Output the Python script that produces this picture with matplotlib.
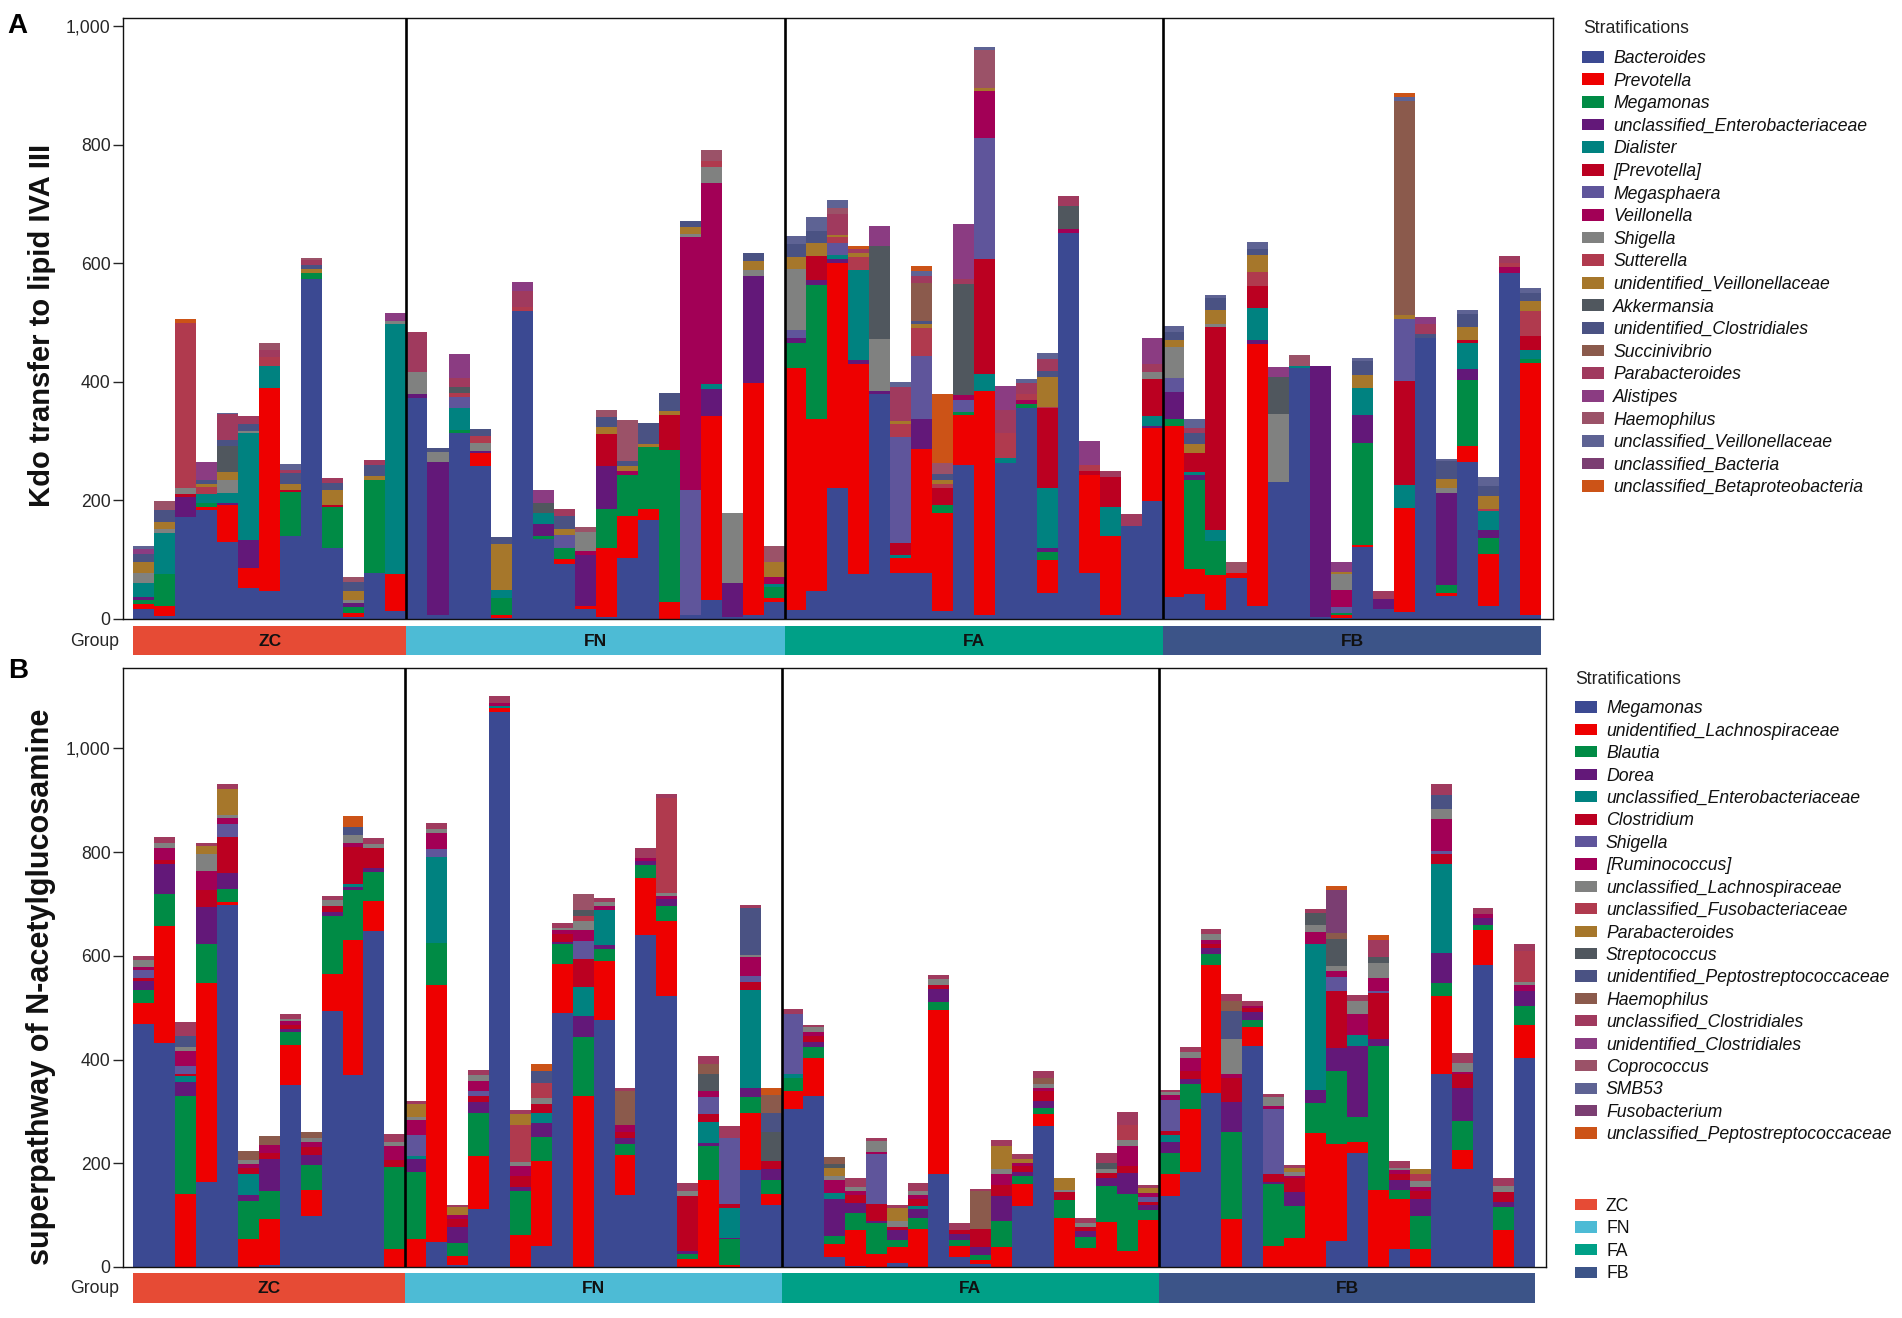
import numpy as np
import matplotlib
matplotlib.use("Agg")
import matplotlib.pyplot as plt
from matplotlib.patches import Rectangle
from matplotlib.ticker import FuncFormatter

plt.rcParams['font.family'] = ['Liberation Sans', 'DejaVu Sans']

GROUPS = ["ZC", "FN", "FA", "FB"]
GROUP_COLORS = ["#E64B35", "#4DBBD5", "#00A087", "#3C5488"]
PALETTE = ["#3B4992", "#EE0000", "#008B45", "#631879", "#008280", "#BB0021",
           "#5F559B", "#A20056", "#808180", "#B03A4E", "#A6772B", "#50575E",
           "#4A5283", "#8B5A4C", "#A03A5E", "#8B3C82", "#9B5268", "#5E6394",
           "#7B3E72", "#CC5317"]

TAXA_A = ["Bacteroides", "Prevotella", "Megamonas", "unclassified_Enterobacteriaceae",
          "Dialister", "[Prevotella]", "Megasphaera", "Veillonella", "Shigella",
          "Sutterella", "unidentified_Veillonellaceae", "Akkermansia",
          "unidentified_Clostridiales", "Succinivibrio", "Parabacteroides",
          "Alistipes", "Haemophilus", "unclassified_Veillonellaceae",
          "unclassified_Bacteria", "unclassified_Betaproteobacteria"]
TAXA_B = ["Megamonas", "unidentified_Lachnospiraceae", "Blautia", "Dorea",
          "unclassified_Enterobacteriaceae", "Clostridium", "Shigella",
          "[Ruminococcus]", "unclassified_Lachnospiraceae",
          "unclassified_Fusobacteriaceae", "Parabacteroides", "Streptococcus",
          "unidentified_Peptostreptococcaceae", "Haemophilus",
          "unclassified_Clostridiales", "unidentified_Clostridiales",
          "Coprococcus", "SMB53", "Fusobacterium",
          "unclassified_Peptostreptococcaceae"]

# ---- Panel A: Kdo transfer to lipid IVA III (sample -> {taxon index: value})
A_ZC = [
    {0: 16, 1: 8, 2: 8, 3: 4, 4: 25, 8: 16, 10: 18, 12: 14, 15: 9, 17: 5},
    {0: 5, 1: 16, 2: 55, 4: 69, 8: 7, 10: 12, 12: 20, 16: 15},
    {0: 172, 3: 34, 5: 4, 8: 11, 9: 279, 19: 6},
    {0: 183, 1: 5, 2: 7, 4: 16, 9: 11, 10: 5, 12: 7, 15: 30},
    {0: 129, 1: 63, 3: 3, 4: 18, 8: 21, 10: 14, 11: 43, 12: 11, 14: 43, 17: 3},
    {0: 51, 1: 34, 3: 48, 4: 180, 8: 4, 12: 11, 14: 14},
    {0: 46, 1: 343, 4: 37, 9: 16, 14: 11, 16: 12},
    {0: 139, 2: 75, 5: 4, 10: 9, 12: 19, 14: 5, 17: 11},
    {0: 574, 2: 9, 10: 7, 12: 7, 14: 8, 16: 4},
    {0: 119, 2: 70, 5: 3, 10: 25, 12: 12, 14: 8},
    {0: 3, 1: 6, 2: 10, 3: 8, 8: 5, 10: 14, 12: 16, 16: 9},
    {0: 77, 2: 158, 10: 6, 12: 19, 14: 8},
    {0: 13, 1: 62, 4: 423, 8: 4, 15: 14},
]
A_FN = [
    {0: 373, 3: 7, 8: 36, 14: 68},
    {0: 7, 3: 258, 8: 16, 12: 8},
    {0: 313, 2: 6, 4: 37, 6: 18, 9: 7, 11: 11, 14: 14, 15: 41},
    {0: 258, 1: 21, 3: 4, 8: 14, 9: 11, 12: 13},
    {0: 2, 1: 5, 2: 28, 4: 13, 10: 78, 12: 12},
    {0: 519, 9: 7, 14: 28, 15: 14},
    {0: 135, 2: 5, 3: 20, 4: 19, 11: 16, 15: 23},
    {0: 92, 1: 9, 2: 19, 6: 21, 10: 11, 12: 21, 14: 13},
    {0: 16, 1: 6, 3: 85, 7: 7, 8: 33, 16: 8},
    {0: 3, 1: 117, 2: 66, 3: 71, 5: 55, 10: 11, 12: 18, 16: 11},
    {0: 102, 1: 72, 2: 68, 7: 7, 10: 9, 12: 9, 16: 68},
    {0: 167, 1: 18, 2: 105, 10: 5, 12: 36},
    {1: 28, 2: 256, 5: 60, 10: 7, 12: 30},
    {0: 7, 6: 211, 7: 427, 8: 5, 10: 11, 12: 11},
    {0: 32, 1: 311, 3: 45, 4: 9, 7: 338, 8: 28, 9: 9, 16: 20},
    {0: 3, 3: 58, 8: 117},
    {0: 6, 1: 392, 3: 180, 8: 10, 10: 16, 12: 13},
    {0: 28, 1: 7, 2: 18, 4: 5, 7: 13, 10: 25, 16: 26},
]
A_FA = [
    {0: 14, 1: 410, 2: 41, 3: 9, 6: 13, 8: 104, 10: 20, 12: 21, 17: 14},
    {0: 46, 1: 291, 2: 226, 3: 9, 5: 41, 10: 21, 12: 21, 17: 23},
    {0: 220, 1: 380, 3: 7, 4: 7, 6: 21, 9: 9, 10: 4, 14: 35, 16: 10, 17: 14},
    {0: 75, 1: 355, 3: 7, 4: 151, 9: 23, 10: 7, 14: 7, 19: 5},
    {0: 380, 3: 5, 8: 87, 11: 158, 15: 33},
    {0: 78, 1: 25, 4: 4, 5: 21, 6: 178, 9: 23, 10: 4, 14: 59, 17: 7},
    {0: 78, 1: 208, 3: 52, 6: 105, 9: 48, 10: 7, 12: 5, 13: 64, 14: 11, 17: 9, 19: 8},
    {0: 13, 1: 166, 2: 13, 5: 28, 9: 7, 10: 7, 12: 11, 16: 18, 19: 117},
    {0: 259, 1: 85, 2: 5, 6: 21, 7: 7, 11: 188, 14: 9, 15: 92},
    {0: 7, 1: 378, 4: 28, 5: 195, 6: 203, 7: 80, 10: 5, 16: 64, 17: 6},
    {0: 263, 4: 9, 9: 41, 14: 39, 15: 41},
    {0: 355, 2: 7, 7: 7, 9: 11, 14: 18, 17: 6},
    {0: 44, 1: 55, 2: 14, 3: 7, 4: 100, 5: 135, 9: 3, 10: 50, 12: 11, 14: 20, 17: 10},
    {0: 652, 7: 6, 11: 39, 14: 16},
    {0: 77, 1: 166, 5: 6, 9: 11, 15: 40},
    {0: 6, 1: 134, 4: 48, 5: 51, 14: 11},
    {0: 156, 14: 21},
    {0: 199, 1: 123, 3: 4, 4: 17, 5: 61, 8: 12, 14: 14, 15: 44},
]
A_FB = [
    {0: 37, 1: 289, 2: 12, 3: 45, 6: 23, 8: 53, 10: 11, 12: 14, 17: 11},
    {0: 41, 1: 43, 2: 151, 3: 7, 4: 6, 5: 31, 10: 16, 12: 18, 14: 9, 17: 16},
    {0: 14, 1: 60, 2: 57, 4: 19, 5: 343, 8: 5, 10: 23, 12: 21, 17: 5},
    {0: 68, 1: 9, 16: 19},
    {0: 21, 1: 442, 3: 7, 4: 55, 5: 36, 9: 25, 10: 28, 12: 11, 17: 11},
    {0: 231, 8: 114, 11: 63, 15: 17},
    {0: 424, 4: 3, 16: 18},
    {0: 3, 3: 423},
    {0: 2, 1: 4, 2: 3, 6: 11, 7: 28, 8: 27, 10: 4, 15: 16},
    {0: 121, 1: 4, 2: 171, 3: 48, 4: 45, 10: 23, 12: 23, 17: 5},
    {0: 16, 3: 18, 14: 12},
    {0: 11, 1: 176, 4: 39, 5: 176, 6: 104, 10: 7, 13: 361, 17: 7, 19: 6},
    {0: 474, 12: 6, 14: 18, 15: 11},
    {0: 39, 1: 4, 2: 14, 3: 156, 8: 7, 10: 16, 12: 30, 17: 4},
    {0: 265, 1: 26, 2: 112, 3: 18, 4: 44, 5: 5, 10: 23, 12: 21, 17: 7},
    {0: 21, 1: 89, 2: 26, 3: 14, 4: 31, 9: 4, 10: 23, 12: 16, 17: 16},
    {0: 584, 7: 9, 9: 7, 14: 12},
    {0: 6, 1: 426, 2: 7, 4: 14, 5: 25, 9: 41, 10: 18, 12: 13, 17: 9},
]

# ---- Panel B: superpathway of N-acetylglucosamine
B_ZC = [
    {0: 468, 1: 41, 2: 25, 3: 18, 5: 6, 6: 15, 7: 5, 8: 14, 14: 8},
    {0: 432, 1: 225, 2: 62, 3: 59, 5: 7, 7: 22, 8: 11, 14: 11},
    {1: 141, 2: 188, 3: 27, 4: 12, 5: 4, 6: 16, 7: 29, 8: 8, 12: 21, 14: 27},
    {0: 163, 1: 385, 2: 74, 3: 73, 5: 31, 7: 37, 8: 33, 10: 15, 14: 7},
    {0: 698, 1: 5, 2: 26, 3: 30, 5: 70, 6: 25, 7: 12, 8: 6, 10: 49, 14: 10},
    {1: 53, 2: 75, 3: 10, 4: 41, 5: 12, 7: 8, 8: 8, 13: 16},
    {0: 4, 1: 88, 2: 54, 3: 62, 5: 12, 7: 16, 13: 16},
    {0: 350, 1: 78, 2: 25, 3: 6, 5: 8, 7: 8, 8: 4, 14: 8},
    {0: 99, 1: 49, 2: 49, 3: 19, 5: 16, 7: 8, 8: 8, 13: 12},
    {0: 493, 1: 72, 2: 111, 3: 8, 5: 12, 8: 12, 14: 8},
    {0: 371, 1: 259, 2: 96, 3: 7, 4: 6, 5: 70, 7: 8, 8: 16, 12: 16, 19: 21},
    {0: 647, 1: 58, 2: 57, 3: 7, 5: 39, 8: 8, 14: 12},
    {1: 34, 2: 158, 5: 14, 7: 27, 8: 8, 14: 15},
]
B_FN = [
    {1: 53, 2: 130, 3: 25, 4: 6, 6: 41, 7: 29, 8: 6, 10: 25, 14: 5},
    {0: 48, 1: 495, 2: 82, 4: 166, 6: 15, 7: 30, 8: 8, 14: 12},
    {0: 4, 1: 17, 2: 26, 3: 29, 5: 16, 7: 8, 10: 16, 14: 4},
    {0: 111, 1: 103, 2: 82, 3: 23, 5: 10, 6: 11, 7: 19, 8: 12, 14: 8},
    {0: 1071, 1: 6, 4: 5, 7: 6, 14: 14},
    {1: 62, 2: 85, 3: 7, 5: 21, 7: 20, 8: 7, 9: 72, 10: 21, 14: 8},
    {0: 41, 1: 163, 2: 47, 3: 27, 4: 18, 5: 19, 8: 11, 9: 28, 12: 23, 19: 14},
    {0: 489, 1: 95, 2: 39, 3: 4, 5: 16, 7: 6, 8: 5, 14: 10},
    {1: 329, 2: 115, 3: 39, 4: 56, 5: 55, 6: 35, 7: 21, 8: 18, 9: 8, 11: 12, 16: 32},
    {0: 477, 1: 113, 2: 23, 3: 8, 4: 67, 7: 8, 8: 7, 14: 8},
    {0: 138, 1: 78, 2: 21, 3: 12, 5: 12, 7: 12, 13: 66, 14: 6},
    {0: 641, 1: 109, 2: 25, 3: 8, 7: 6, 14: 19},
    {0: 523, 1: 145, 2: 29, 3: 12, 7: 6, 8: 7, 9: 182, 14: 9},
    {1: 15, 2: 10, 3: 5, 5: 107, 8: 10, 14: 14},
    {1: 167, 2: 67, 3: 4, 4: 41, 5: 15, 6: 33, 7: 12, 11: 33, 13: 20, 14: 14},
    {1: 4, 2: 49, 3: 3, 4: 58, 5: 8, 6: 127, 14: 22},
    {0: 186, 1: 110, 2: 31, 3: 18, 4: 189, 5: 15, 6: 12, 7: 37, 8: 4, 12: 90, 14: 6},
    {0: 119, 1: 21, 2: 27, 3: 21, 5: 16, 11: 56, 12: 36, 13: 35, 19: 14},
]
B_FA = [
    {0: 305, 1: 35, 2: 25, 4: 8, 6: 115, 14: 10},
    {0: 329, 1: 74, 2: 21, 3: 10, 5: 12, 7: 8, 8: 8, 14: 4},
    {0: 19, 1: 25, 2: 16, 3: 70, 4: 12, 7: 25, 8: 8, 10: 16, 11: 8, 13: 13},
    {0: 2, 1: 70, 2: 31, 3: 21, 5: 14, 7: 8, 8: 8, 14: 18},
    {1: 25, 2: 60, 3: 4, 5: 33, 6: 96, 7: 4, 8: 21, 14: 6},
    {0: 7, 1: 31, 2: 14, 3: 20, 5: 4, 8: 12, 10: 25, 14: 7},
    {1: 74, 2: 21, 3: 16, 4: 7, 5: 12, 7: 8, 8: 8, 14: 16},
    {0: 179, 1: 316, 2: 16, 3: 25, 5: 8, 8: 12, 14: 7},
    {0: 19, 1: 21, 2: 12, 3: 12, 5: 8, 14: 12},
    {0: 5, 1: 8, 2: 10, 3: 16, 5: 35, 13: 73, 14: 3},
    {1: 39, 2: 49, 3: 49, 5: 21, 7: 22, 8: 8, 10: 45, 14: 11},
    {0: 117, 1: 43, 2: 15, 3: 8, 5: 11, 7: 6, 10: 8, 14: 10},
    {0: 271, 1: 23, 2: 12, 3: 14, 5: 19, 7: 6, 8: 7, 13: 12, 14: 14},
    {1: 94, 2: 35, 5: 16, 8: 4, 10: 23},
    {1: 37, 2: 21, 3: 11, 5: 8, 8: 8, 14: 10},
    {1: 86, 2: 70, 3: 15, 5: 10, 8: 8, 11: 11, 14: 20},
    {1: 30, 2: 110, 3: 42, 5: 12, 7: 39, 8: 11, 9: 30, 14: 25},
    {1: 91, 2: 18, 3: 10, 5: 7, 6: 8, 7: 8, 10: 11, 14: 4},
]
B_FB = [
    {0: 136, 1: 44, 2: 39, 3: 22, 4: 14, 5: 7, 6: 60, 7: 10, 8: 6, 14: 4},
    {0: 183, 1: 122, 2: 47, 3: 10, 5: 15, 7: 25, 8: 12, 14: 10},
    {0: 335, 1: 248, 2: 21, 3: 11, 5: 8, 7: 8, 8: 12, 14: 8},
    {1: 93, 2: 167, 3: 58, 5: 47, 7: 8, 8: 67, 12: 53, 13: 19, 14: 15},
    {0: 427, 1: 35, 2: 14, 3: 16, 5: 7, 7: 4, 14: 10},
    {1: 41, 2: 119, 3: 4, 5: 15, 6: 126, 7: 6, 8: 16, 14: 6},
    {1: 56, 2: 62, 3: 26, 5: 27, 7: 4, 8: 8, 10: 7, 14: 6},
    {1: 259, 2: 58, 3: 25, 4: 281, 7: 23, 8: 14, 11: 22, 14: 8},
    {0: 50, 1: 187, 2: 140, 3: 45, 5: 111, 6: 27, 7: 10, 8: 11, 11: 51, 13: 12, 18: 82, 19: 8},
    {0: 220, 1: 21, 2: 48, 3: 137, 4: 22, 7: 39, 8: 25, 14: 12},
    {1: 148, 2: 279, 3: 13, 5: 88, 6: 4, 7: 25, 8: 29, 11: 12, 14: 33, 19: 10},
    {0: 35, 1: 96, 2: 17, 3: 20, 5: 11, 7: 8, 8: 4, 14: 14},
    {1: 35, 2: 63, 3: 33, 5: 16, 7: 8, 8: 11, 9: 14, 10: 9},
    {0: 372, 1: 150, 2: 25, 3: 59, 4: 171, 5: 20, 6: 6, 7: 60, 8: 21, 12: 26, 14: 22},
    {0: 189, 1: 37, 2: 56, 3: 63, 5: 27, 7: 4, 8: 18, 14: 19},
    {0: 582, 1: 67, 2: 11, 3: 12, 7: 8, 14: 12},
    {1: 71, 2: 45, 3: 10, 5: 19, 8: 11, 14: 15},
    {0: 403, 1: 63, 2: 37, 3: 29, 7: 12, 8: 6, 9: 60, 14: 12},
]

YLABEL_A = "Kdo transfer to lipid IVA III"
YLABEL_B = "superpathway of N-acetylglucosamine"

W, H = 1902, 1318


def fx(px):
    return px / W


def fy(py):
    return 1 - py / H


def dense(groups, ntaxa):
    rows = [r for g in groups for r in g]
    M = np.zeros((len(rows), ntaxa))
    for i, r in enumerate(rows):
        for k, v in r.items():
            M[i, k] = v
    return M


FS = 12.7
TICK_COLOR = "#262626"


def draw_panel(rect, strip_rect, groups, taxa, ylim, ylabel, ylabel_size,
               xlim, label_pos):
    ax = fig.add_axes(rect)
    axg = fig.add_axes(strip_rect)
    M = dense(groups, len(taxa))
    n = M.shape[0]
    x = np.arange(n)
    bottom = np.zeros(n)
    for k in range(len(taxa)):
        ax.bar(x, M[:, k], bottom=bottom, width=1.0, color=PALETTE[k],
               linewidth=0, align='center')
        bottom += M[:, k]
    sizes = np.array([len(g) for g in groups])
    ends = np.cumsum(sizes)
    starts = ends - sizes
    for b in ends[:-1]:
        ax.axvline(b - 0.5, color='black', lw=1.9, zorder=5)
    ax.set_xlim(*xlim)
    ax.set_ylim(*ylim)
    ax.set_xticks([])
    ax.set_yticks([0, 200, 400, 600, 800, 1000])
    ax.yaxis.set_major_formatter(FuncFormatter(lambda v, p: f"{int(v):,}"))
    ax.tick_params(axis='y', length=7, width=1.0, color=TICK_COLOR,
                   labelsize=FS, labelcolor=TICK_COLOR, pad=2)
    for s in ax.spines.values():
        s.set_linewidth(1.0)
        s.set_color('#111111')
    ax.set_ylabel(ylabel, fontsize=ylabel_size, fontweight='bold', color='#111111')
    ax.yaxis.set_label_coords(label_pos[0], label_pos[1])

    centers = starts + sizes / 2 - 0.5
    axg.bar(centers, np.ones(len(sizes)), width=sizes, color=GROUP_COLORS,
            linewidth=0)
    axg.set_xlim(*xlim)
    axg.set_ylim(0, 1)
    axg.axis('off')
    for c, g in zip(centers, GROUPS):
        axg.text(c, 0.48, g, ha='center', va='center', fontsize=12.5,
                 fontweight='bold', color='#111111')
    axg.text(-0.003, 0.48, "Group", transform=axg.transAxes, ha='right',
             va='center', fontsize=FS, color=TICK_COLOR)
    return ax


fig = plt.figure(figsize=(W / 100, H / 100), dpi=100)

# Panel A
wA = 1553 - 123
hA = 618.7 - 18.1
draw_panel([fx(123), fy(618.7), wA / W, hA / H],
           [fx(123), fy(655.4), wA / W, 29.5 / H],
           [A_ZC, A_FN, A_FA, A_FB], TAXA_A, (0, 1014), YLABEL_A, 21.0,
           (-0.99, 67.06), ((56 - 123) / wA, (618.7 - 325.8) / hA))

# Panel B
wB = 1546 - 123
hB = 1266.9 - 668.3
draw_panel([fx(123), fy(1266.9), wB / W, hB / H],
           [fx(123), fy(1303.1), wB / W, 29.8 / H],
           [B_ZC, B_FN, B_FA, B_FB], TAXA_B, (0, 1154.5), YLABEL_B, 22,
           (-0.99, 67.01), ((56 - 123) / wB, (1266.9 - 986.5) / hB))

fig.text(fx(7), fy(33), "A", fontsize=20, fontweight='bold', va='baseline')
fig.text(fx(8), fy(678), "B", fontsize=20, fontweight='bold', va='baseline')


def legend_block(x_patch, x_text, y0, step, names, colors, ph, italic=True):
    for i, (nm, col) in enumerate(zip(names, colors)):
        yc = y0 + step * i
        fig.add_artist(Rectangle((fx(x_patch), fy(yc + ph / 2)), 22 / W, ph / H,
                                 transform=fig.transFigure, facecolor=col,
                                 edgecolor='none'))
        fig.text(fx(x_text), fy(yc + 6.3), nm, fontsize=FS, va='baseline',
                 ha='left', style='italic' if italic else 'normal',
                 color='#111111')


fig.text(fx(1583), fy(33), "Stratifications", fontsize=FS, va='baseline',
         color='#222222')
legend_block(1582, 1613, 56.7, 22.6, TAXA_A, PALETTE, 11.7)

fig.text(fx(1575), fy(684), "Stratifications", fontsize=FS, va='baseline',
         color='#222222')
legend_block(1575, 1606, 707.0, 22.42, TAXA_B, PALETTE, 11.2)
legend_block(1575, 1606, 1204.4, 22.6, GROUPS, GROUP_COLORS, 11.2, italic=False)

fig.savefig("out.png", dpi=100)
